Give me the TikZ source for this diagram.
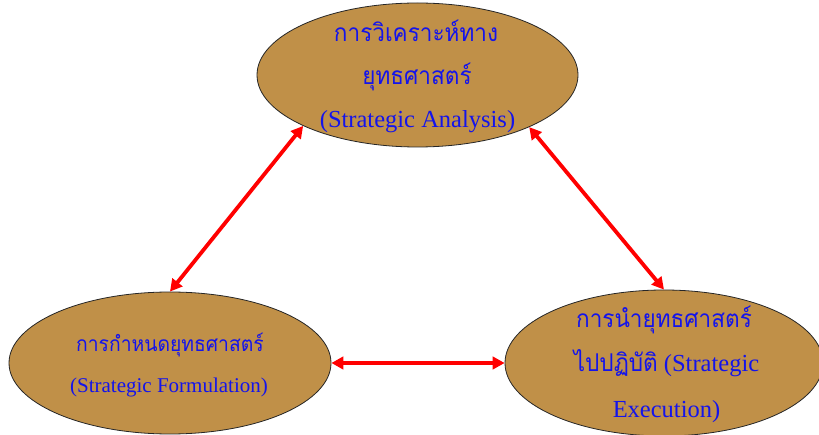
\documentclass[tikz,border=0pt]{standalone}
\usepackage{fontspec}
\setmainfont{Liberation Serif}
\newfontfamily\thaifont[Script=Thai,FakeStretch=0.92]{Loma}
\usetikzlibrary{shapes.geometric,arrows.meta}
\definecolor{phasefill}{RGB}{192,144,72}
\definecolor{labelblue}{RGB}{20,20,235}
\tikzset{
  phase/.style={ellipse, draw=black!85, line width=0.8pt, fill=phasefill, inner sep=0pt},
  link/.style={draw=red, line width=3.8pt,
    {Triangle[length=12pt,width=12.5pt]}-{Triangle[length=12pt,width=12.5pt]}},
  lbl/.style={text=labelblue, anchor=base, inner sep=0pt},
  big/.style={font=\fontsize{24.5}{28}\selectfont},
  small/.style={font=\fontsize{21}{24}\selectfont},
}
\begin{document}
\begin{tikzpicture}[x=1pt,y=-1pt]
\useasboundingbox (0,0) rectangle (819,435);
\fill[white] (0,0) rectangle (819,435);

% the three phases
\node[phase, minimum width=321pt, minimum height=144pt] (analysis) at (417.5,75) {};
\node[phase, minimum width=322pt, minimum height=142pt] (formulation) at (170,363) {};
\node[phase, minimum width=318pt, minimum height=146pt] (execution) at (664,363) {};

% two-way links
\draw[link] (analysis.204) -- (formulation.90);
\draw[link] (analysis.335) -- (execution.90);
\draw[link] (formulation.0) -- (execution.180);

% labels
\node[lbl, big] (a1) at (416,42) {\thaifont การวิเคราะห์ทาง};
\node[lbl, big] (a2) at (417,85) {\thaifont ยุทธศาสตร์};
\node[lbl, big] (a3) at (417.5,128) {(Strategic Analysis)};

\node[lbl, small] (f1) at (170,352) {\thaifont การกำหนดยุทธศาสตร์};
\node[lbl, small] (f2) at (169,392) {(Strategic Formulation)};

\node[lbl, big] (e1) at (664,328) {\thaifont การนำยุทธศาสตร์};
\node[lbl, big] (e2) at (666.5,372) {{\thaifont ไปปฏิบัติ} (Strategic};
\node[lbl, big] (e3) at (666.5,417) {Execution)};
\end{tikzpicture}
\end{document}
